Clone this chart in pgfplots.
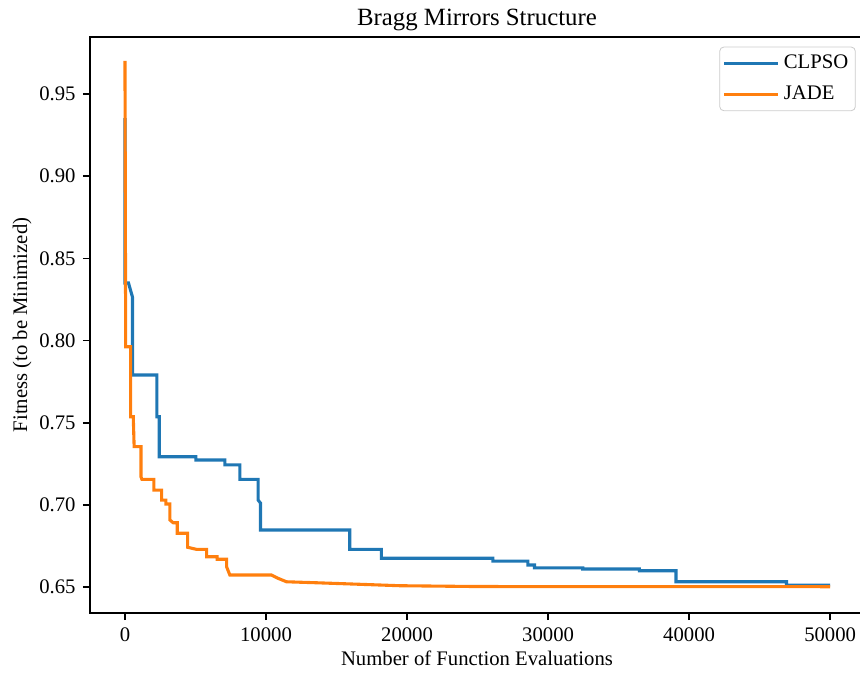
\documentclass[border=0pt]{standalone}
\usepackage{fontspec}
\setmainfont{Liberation Serif}
\usepackage{pgfplots}
\pgfplotsset{compat=1.18}
\definecolor{c0}{HTML}{1F77B4}
\definecolor{c1}{HTML}{FF7F0E}
\begin{document}
\fontsize{10.35pt}{12pt}\selectfont
\begin{tikzpicture}
\begin{axis}[
  at={(0,0)}, anchor=south west,
  scale only axis, width=387pt, height=288pt,
  xmin=-2480, xmax=52400, ymin=0.6342, ymax=0.9847,
  xtick={0,10000,20000,30000,40000,50000},
  ytick={0.65,0.70,0.75,0.80,0.85,0.90,0.95},
  scaled x ticks=false, scaled y ticks=false,
  tick align=outside, tick pos=left,
  major tick length=3.6pt,
  every tick/.style={black, line width=0.83pt},
  axis line style={line width=0.83pt},
  /pgf/number format/assume math mode=true,
  font=\fontsize{10.35pt}{12pt}\selectfont,
  xticklabel style={/pgf/number format/1000 sep={}},
  yticklabel style={/pgf/number format/.cd, fixed, fixed zerofill, precision=2},
  title={Bragg Mirrors Structure},
  title style={at={(axis description cs:0.5,1)}, anchor=base, yshift=-0.5pt, font=\fontsize{12.4pt}{14pt}\selectfont},
  xlabel={Number of Function Evaluations},
  xlabel style={at={(axis description cs:0.5,0)}, anchor=base, yshift=-26.35pt},
  ylabel={Fitness (to be Minimized)},
  ylabel style={at={(axis description cs:-0.0876,0.5)}, anchor=center},
  legend style={at={(axis description cs:1,1)}, anchor=north east, xshift=-4.15pt, yshift=-4.85pt,
    draw=black!20, rounded corners=2pt, fill=white, fill opacity=0.8, text opacity=1,
    inner xsep=1.5pt, inner ysep=2pt, row sep=3pt, font=\fontsize{10.35pt}{12pt}\selectfont},
  legend image code/.code={\draw[#1, line width=1.55pt] (0pt,0pt) -- (22.5pt,0pt); \path (0pt,0pt) -- (27pt,0pt);},
  legend cell align=left,
]
\addplot[c0, line width=1.55pt] coordinates {
(0,0.9354)(0,0.8350)(250,0.8350)(530,0.8265)(530,0.7790)(2266,0.7790)(2266,0.7536)
(2429,0.7536)(2429,0.7293)(5028,0.7293)(5028,0.7273)(7082,0.7273)(7082,0.7243)
(8144,0.7243)(8144,0.7155)(9440,0.7155)(9440,0.7029)(9610,0.7011)(9610,0.6847)
(15935,0.6847)(15935,0.6729)(18180,0.6729)(18180,0.6675)(26083,0.6675)(26083,0.6658)
(28562,0.6658)(28562,0.6634)(29036,0.6634)(29036,0.6617)(32457,0.6617)(32457,0.6610)
(36471,0.6610)(36471,0.6599)(39071,0.6599)(39071,0.6532)(46903,0.6532)(46903,0.6512)
(50000,0.6512)
};
\addlegendentry{CLPSO}
\addplot[c1, line width=1.55pt] coordinates {
(0,0.9701)(50,0.7962)(404,0.7962)(404,0.7536)(588,0.7536)(650,0.7354)(1133,0.7354)
(1133,0.7171)(1204,0.7155)(2054,0.7155)(2054,0.7090)(2599,0.7090)(2599,0.7029)
(2904,0.7029)(2904,0.7005)(3187,0.7005)(3187,0.6908)(3421,0.6891)(3704,0.6891)
(3704,0.6827)(4440,0.6827)(4440,0.6742)(5078,0.6729)(5786,0.6729)(5786,0.6684)
(6537,0.6684)(6537,0.6669)(7202,0.6669)(7202,0.6624)(7436,0.6573)(10389,0.6573)
(10857,0.6553)(11451,0.6532)(13576,0.6526)(16876,0.6516)(19476,0.6508)(25000,0.6503)
(50000,0.6502)
};
\addlegendentry{JADE}
\end{axis}
\pgfresetboundingbox
\useasboundingbox (-45pt,-30pt) rectangle (385pt,306.5pt);
\end{tikzpicture}
\end{document}
